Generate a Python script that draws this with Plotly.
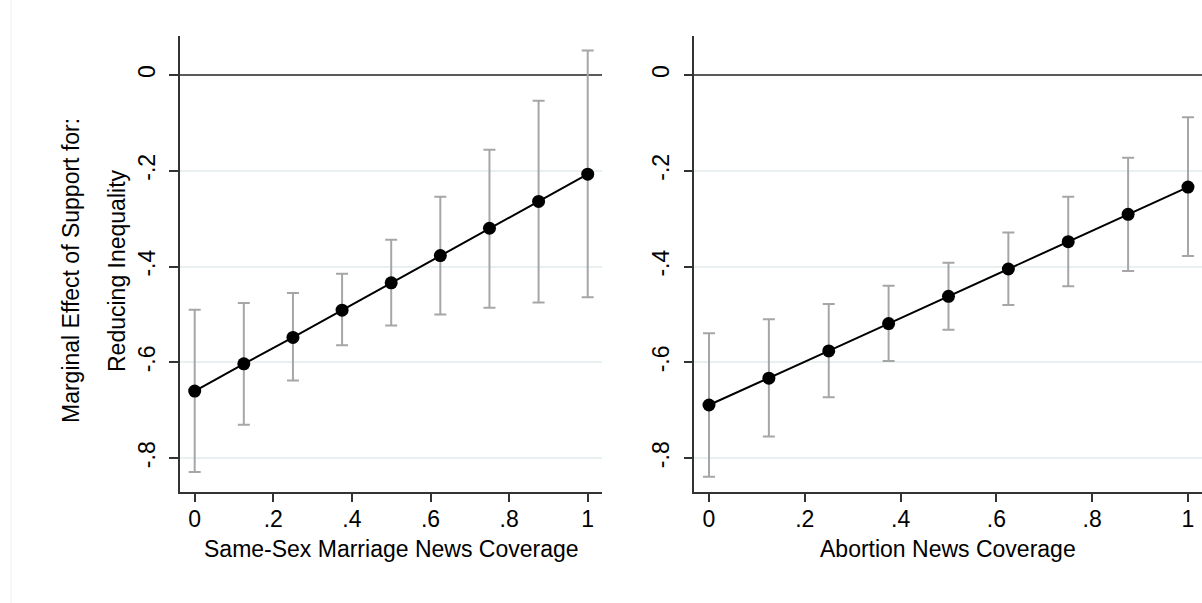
import plotly.graph_objects as go

# ---- data ----
coverage = [0, 0.125, 0.25, 0.375, 0.5, 0.625, 0.75, 0.875, 1.0]

ssm_effect = [-0.660, -0.603, -0.548, -0.491, -0.434, -0.377, -0.320, -0.264, -0.207]
ssm_upper = [-0.490, -0.476, -0.455, -0.415, -0.344, -0.254, -0.156, -0.054, 0.051]
ssm_lower = [-0.829, -0.730, -0.638, -0.564, -0.523, -0.500, -0.486, -0.475, -0.464]

abo_effect = [-0.689, -0.633, -0.576, -0.519, -0.462, -0.405, -0.348, -0.291, -0.234]
abo_upper = [-0.539, -0.510, -0.478, -0.440, -0.392, -0.329, -0.254, -0.173, -0.088]
abo_lower = [-0.839, -0.755, -0.673, -0.597, -0.532, -0.480, -0.441, -0.409, -0.378]

x_tickvals = [0, 0.2, 0.4, 0.6, 0.8, 1.0]
x_ticktext = ["0", ".2", ".4", ".6", ".8", "1"]
y_tickvals = [0, -0.2, -0.4, -0.6, -0.8]
y_ticktext = ["0", "-.2", "-.4", "-.6", "-.8"]

x_titles = ["Same-Sex Marriage News Coverage", "Abortion News Coverage"]
y_title_lines = ["Marginal Effect of Support for:", "Reducing Inequality"]

# ---- figure ----
W, H = 1202, 603
FONT = "Liberation Sans, Arial, sans-serif"
FS = 23
fig = go.Figure()

panels = [
    (coverage, ssm_effect, ssm_upper, ssm_lower, "x", "y"),
    (coverage, abo_effect, abo_upper, abo_lower, "x2", "y2"),
]
for xs, eff, up, lo, xa, ya in panels:
    fig.add_trace(go.Scatter(
        x=xs, y=eff, mode="markers",
        marker=dict(size=0.1, color="rgba(0,0,0,0)"),
        error_y=dict(type="data", symmetric=False,
                     array=[u - e for u, e in zip(up, eff)],
                     arrayminus=[e - l for e, l in zip(eff, lo)],
                     color="#A6A6A6", thickness=2, width=6),
        xaxis=xa, yaxis=ya, showlegend=False, hoverinfo="skip"))
    fig.add_trace(go.Scatter(
        x=xs, y=eff, mode="lines+markers",
        line=dict(color="black", width=2),
        marker=dict(size=13, color="black"),
        xaxis=xa, yaxis=ya, showlegend=False))

px = lambda v: v / W
py = lambda v: 1 - v / H

y_dom = [py(491.7), py(36)]
ax_common = dict(
    showline=True, linecolor="#333333", linewidth=1.5,
    ticks="outside", ticklen=9, tickwidth=1.5, tickcolor="#333333",
    tickfont=dict(family=FONT, size=FS, color="black"),
    showgrid=False, zeroline=False, mirror=False,
)
y_common = dict(
    ax_common, showgrid=True, gridcolor="#E8F0F2", gridwidth=1.5,
    zeroline=True, zerolinecolor="#5A5A5A", zerolinewidth=2,
    range=[-0.870, 0.0814], tickvals=y_tickvals, ticktext=y_ticktext,
    tickangle=-90, ticklabelstandoff=5, domain=y_dom,
)

fig.update_layout(
    width=W, height=H,
    margin=dict(l=0, r=0, t=0, b=0),
    paper_bgcolor="white", plot_bgcolor="white",
    font=dict(family=FONT, size=FS, color="black"),
    xaxis=dict(ax_common, domain=[px(180), px(601.7)], range=[-0.0374, 1.0356],
               tickvals=x_tickvals, ticktext=x_ticktext, anchor="y",
               ticklabelstandoff=-3),
    yaxis=dict(y_common, anchor="x"),
    xaxis2=dict(ax_common, domain=[px(694.3), 1.0], range=[-0.0307, 1.0293],
                tickvals=x_tickvals, ticktext=x_ticktext, anchor="y2",
                ticklabelstandoff=-3),
    yaxis2=dict(y_common, anchor="x2"),
)

annotations = [
    dict(text=x_titles[0], x=px(391), y=py(549), xref="paper", yref="paper",
         showarrow=False, xanchor="center", yanchor="middle",
         font=dict(family=FONT, size=FS, color="black")),
    dict(text=x_titles[1], x=px(948), y=py(549), xref="paper", yref="paper",
         showarrow=False, xanchor="center", yanchor="middle",
         font=dict(family=FONT, size=FS, color="black")),
    dict(text=y_title_lines[0], x=px(71), y=py(271), xref="paper", yref="paper",
         showarrow=False, textangle=-90, xanchor="center", yanchor="middle",
         font=dict(family=FONT, size=FS, color="black")),
    dict(text=y_title_lines[1], x=px(117), y=py(271), xref="paper", yref="paper",
         showarrow=False, textangle=-90, xanchor="center", yanchor="middle",
         font=dict(family=FONT, size=FS, color="black")),
]
fig.update_layout(annotations=annotations)

fig.add_shape(type="line", xref="paper", yref="paper",
              x0=px(11), x1=px(11), y0=0, y1=1,
              line=dict(color="#EEEEEE", width=1))

fig.write_html("out.html")
